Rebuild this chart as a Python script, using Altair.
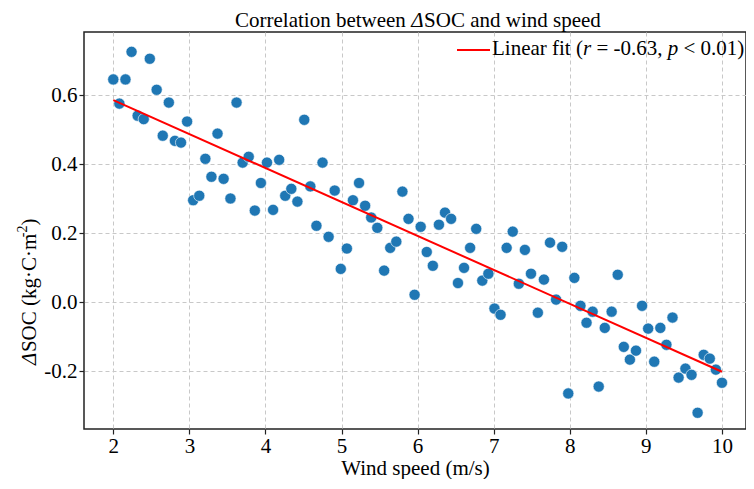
import altair as alt
import pandas as pd

# ---- data ----
wind_speed = [2.00, 2.08, 2.16, 2.24, 2.32, 2.40, 2.48, 2.57, 2.65, 2.73,
              2.81, 2.89, 2.97, 3.05, 3.13, 3.21, 3.29, 3.37, 3.45, 3.54,
              3.62, 3.70, 3.78, 3.86, 3.94, 4.02, 4.10, 4.18, 4.26, 4.34,
              4.42, 4.51, 4.59, 4.67, 4.75, 4.83, 4.91, 4.99, 5.07, 5.15,
              5.23, 5.31, 5.39, 5.47, 5.56, 5.64, 5.72, 5.80, 5.88, 5.96,
              6.04, 6.12, 6.20, 6.28, 6.36, 6.44, 6.53, 6.61, 6.69, 6.77,
              6.85, 6.93, 7.01, 7.09, 7.17, 7.25, 7.33, 7.41, 7.49, 7.58,
              7.66, 7.74, 7.82, 7.90, 7.98, 8.06, 8.14, 8.22, 8.30, 8.38,
              8.46, 8.55, 8.63, 8.71, 8.79, 8.87, 8.95, 9.03, 9.11, 9.19,
              9.27, 9.35, 9.43, 9.52, 9.60, 9.68, 9.76, 9.84, 9.92, 10.00]
delta_soc = [0.646, 0.576, 0.646, 0.726, 0.541, 0.531, 0.706, 0.616, 0.483, 0.579,
             0.468, 0.463, 0.524, 0.296, 0.309, 0.416, 0.364, 0.489, 0.358, 0.301,
             0.579, 0.405, 0.422, 0.266, 0.346, 0.405, 0.268, 0.413, 0.309, 0.329,
             0.292, 0.529, 0.336, 0.222, 0.405, 0.190, 0.324, 0.097, 0.156, 0.296,
             0.346, 0.280, 0.246, 0.216, 0.092, 0.158, 0.176, 0.321, 0.242, 0.022,
             0.219, 0.146, 0.106, 0.225, 0.260, 0.242, 0.056, 0.100, 0.158, 0.213,
             0.063, 0.083, -0.018, -0.036, 0.158, 0.205, 0.054, 0.152, 0.083, -0.030,
             0.066, 0.173, 0.008, 0.161, -0.264, 0.071, -0.010, -0.059, -0.027, -0.244,
             -0.074, -0.027, 0.080, -0.129, -0.166, -0.140, -0.010, -0.076, -0.172, -0.074,
             -0.123, -0.044, -0.218, -0.192, -0.210, -0.320, -0.152, -0.163, -0.195, -0.233]
fit_x = [2.0, 10.0]
fit_y = [0.586, -0.201]
x_ticks = [2, 3, 4, 5, 6, 7, 8, 9, 10]
y_ticks = [-0.2, 0.0, 0.2, 0.4, 0.6]

FONT = "Liberation Serif"
FS = 21

pts = pd.DataFrame({"x": wind_speed, "y": delta_soc})
fit = pd.DataFrame({"x": fit_x, "y": fit_y})
one = pd.DataFrame({"k": [0]})

xscale = alt.Scale(domain=[1.615, 10.316], nice=False, zero=False)
yscale = alt.Scale(domain=[-0.367, 0.7835], nice=False, zero=False)

xaxis = alt.Axis(values=x_ticks, title="Wind speed (m/s)", format="d",
                 grid=True, gridDash=[4, 3], gridColor="#c8c8c8", gridWidth=1,
                 domain=False, tickColor="#222", tickSize=5, tickWidth=1.2,
                 labelFont=FONT, labelFontSize=FS, labelColor="black", labelPadding=1,
                 titleFont=FONT, titleFontSize=FS, titleFontWeight="normal",
                 titleColor="black", titlePadding=1)
yaxis = alt.Axis(values=y_ticks, title=None,
                 labelExpr="datum.value < 0 ? '-' + format(-datum.value, '.1f') : format(datum.value, '.1f')",
                 grid=True, gridDash=[4, 3], gridColor="#c8c8c8", gridWidth=1,
                 domain=False, tickColor="#222", tickSize=5, tickWidth=1.2,
                 labelFont=FONT, labelFontSize=FS, labelColor="black", labelPadding=2)

points = alt.Chart(pts).mark_circle(size=125, color="#1f77b4", opacity=1,
                                    stroke="white", strokeWidth=0.6).encode(
    x=alt.X("x:Q", scale=xscale, axis=xaxis),
    y=alt.Y("y:Q", scale=yscale, axis=yaxis),
)

line = alt.Chart(fit).mark_line(color="#ff0000", strokeWidth=2).encode(
    x=alt.X("x:Q", scale=xscale),
    y=alt.Y("y:Q", scale=yscale),
)


def txt(s, x, y, italic=False, size=FS, angle=0, baseline="alphabetic"):
    kw = dict(font=FONT, fontSize=size, color="black", align="left",
              baseline=baseline, angle=angle)
    if italic:
        kw["fontStyle"] = "italic"
    return alt.Chart(one).mark_text(**kw).encode(
        x=alt.value(x), y=alt.value(y), text=alt.value(s))


# title (plot coordinates)
ty = -5
title_parts = [
    txt("Correlation between", 151, ty),
    txt("\u0394", 327.2, ty, italic=True),
    txt("SOC and wind speed", 340.1, ty),
]

# legend
ly = 23
dx = -6
legend_parts = [
    alt.Chart(one).mark_rule(color="#ff0000", strokeWidth=2).encode(
        x=alt.value(379 + dx), x2=alt.value(412 + dx), y=alt.value(18)),
    txt("Linear fit (", 414 + dx, ly),
    txt("r", 505.0 + dx, ly, italic=True),
    txt("= -0.63,", 518.4 + dx, ly),
    txt("p", 589.7 + dx, ly, italic=True),
    txt("< 0.01)", 605.5 + dx, ly),
]

# y-axis title, rotated (plot coordinates)
yx = -54
ylab_parts = [
    txt("\u0394", yx, 333, italic=True, angle=270, baseline="middle"),
    txt("SOC (kg\u00b7C\u00b7m", yx, 320.1, angle=270, baseline="middle"),
    txt("-2", yx - 7, 205.2, size=14, angle=270, baseline="middle"),
    txt(")", yx, 193.5, angle=270, baseline="middle"),
]

chart = alt.layer(points, line, *title_parts, *legend_parts, *ylab_parts).properties(
    width=662, height=397,
    autosize=alt.AutoSizeParams(type="none"),
    padding={"left": 76, "top": 24, "right": 0, "bottom": 50},
).configure_view(stroke="#222", strokeWidth=1.5)

chart.save("out.html", embed_options={"renderer": "svg", "actions": False})
